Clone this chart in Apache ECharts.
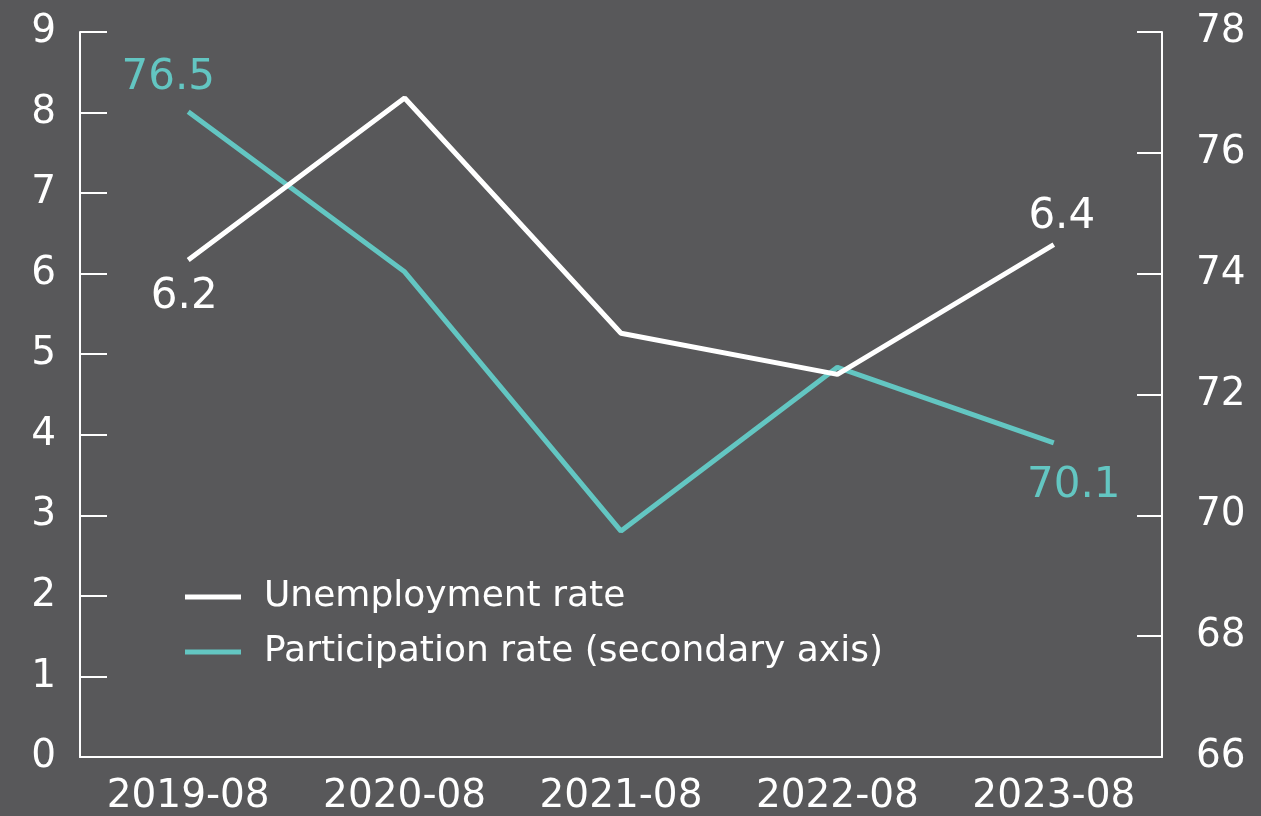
<!DOCTYPE html>
<html>
<head>
<meta charset="utf-8">
<script src="https://cdn.jsdelivr.net/npm/echarts@6/dist/echarts.min.js"></script>
<style>
  html, body { margin: 0; padding: 0; background: #58585a; }
  #chart { width: 1261px; height: 816px; }
</style>
</head>
<body>
<div id="chart"></div>
<script>
// data
const months = ['2019-08', '2020-08', '2021-08', '2022-08', '2023-08'];
const unemployment = [6.17, 8.18, 5.26, 4.75, 6.36];
const participation = [76.68, 74.03, 69.74, 72.45, 71.2];
// labels as printed on the chart (first and last points only)
const unempLabels = ['6.2', '', '', '', '6.4'];
const partLabels = ['76.5', '', '', '', '70.1'];
const leftTicks = { min: 0, max: 9, interval: 1 };
const rightTicks = { min: 66, max: 78, interval: 2 };

const font = 'DejaVu Sans';
const white = '#ffffff';
const teal = '#63c6c2';

const chart = echarts.init(document.getElementById('chart'));

const option = {
  backgroundColor: '#58585a',
  animation: false,
  textStyle: { fontFamily: font },
  grid: { left: 80, right: 99, top: 32, bottom: 59 },
  legend: {
    orient: 'vertical',
    left: 185,
    top: 578,
    padding: 0,
    itemWidth: 56,
    itemHeight: 5,
    itemGap: 17,
    icon: 'rect',
    textStyle: { color: white, fontSize: 36, fontFamily: font, lineHeight: 38, padding: [0, 0, 0, 18] },
    data: ['Unemployment rate', 'Participation rate (secondary axis)']
  },
  xAxis: {
    type: 'category',
    data: months,
    axisLine: { lineStyle: { color: white, width: 2 } },
    axisTick: { inside: true, length: 17, lineStyle: { color: white, width: 2 } },
    axisLabel: { color: white, fontSize: 39, margin: 20, fontFamily: font }
  },
  yAxis: [
    {
      type: 'value',
      min: leftTicks.min, max: leftTicks.max, interval: leftTicks.interval,
      splitLine: { show: false },
      axisLine: { show: true, lineStyle: { color: white, width: 2 } },
      axisTick: { show: true, inside: true, length: 27, lineStyle: { color: white, width: 2 } },
      axisLabel: { color: white, fontSize: 39, margin: 24, fontFamily: font }
    },
    {
      type: 'value',
      position: 'right',
      min: rightTicks.min, max: rightTicks.max, interval: rightTicks.interval,
      splitLine: { show: false },
      axisLine: { show: true, lineStyle: { color: white, width: 2 } },
      axisTick: { show: true, inside: true, length: 25, lineStyle: { color: white, width: 2 } },
      axisLabel: { color: white, fontSize: 39, margin: 34, fontFamily: font }
    }
  ],
  series: [
    {
      name: 'Unemployment rate',
      type: 'line',
      yAxisIndex: 0,
      data: unemployment.map((v, i) => ({
        value: v,
        label: i === 4 ? { position: 'top', offset: [8, -2] } : { position: 'bottom', offset: [-4, 11] }
      })),
      symbol: 'circle',
      symbolSize: 0.1,
      showSymbol: true,
      color: white,
      lineStyle: { color: white, width: 5 },
      label: {
        show: true,
        color: white,
        fontSize: 42,
        fontFamily: font,
        formatter: p => unempLabels[p.dataIndex]
      },
      z: 3
    },
    {
      name: 'Participation rate (secondary axis)',
      type: 'line',
      yAxisIndex: 1,
      data: participation.map((v, i) => ({
        value: v,
        label: i === 0 ? { position: 'top', offset: [-20, -8] } : { position: 'bottom', offset: [20, 17] }
      })),
      symbol: 'circle',
      symbolSize: 0.1,
      showSymbol: true,
      color: teal,
      lineStyle: { color: teal, width: 5 },
      label: {
        show: true,
        color: teal,
        fontSize: 42,
        fontFamily: font,
        formatter: p => partLabels[p.dataIndex]
      },
      z: 2
    }
  ]
};

chart.setOption(option);
window.addEventListener('resize', () => chart.resize());
</script>
</body>
</html>
